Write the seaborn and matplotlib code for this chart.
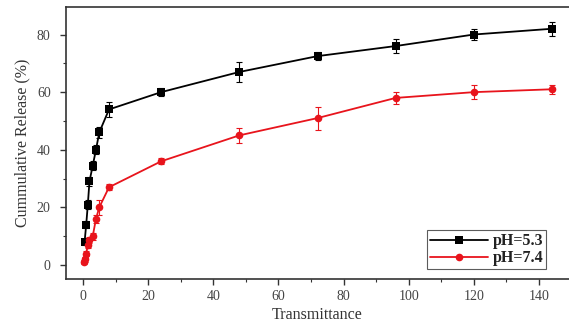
import matplotlib
matplotlib.use("Agg")
import matplotlib.pyplot as plt
from matplotlib.ticker import MultipleLocator
import seaborn as sns
import pandas as pd

# Release profiles at two pH values
time_53 = [0.5, 1, 1.5, 2, 3, 4, 5, 8, 24, 48, 72, 96, 120, 144]
release_53 = [8, 14, 21, 29, 34.5, 40, 46, 54, 60, 67, 72.5, 76, 80, 82]
err_53 = [1.2, 1.2, 1.5, 1.5, 1.5, 1.5, 2, 2.5, 1.5, 3.5, 1.5, 2.5, 2, 2.5]

time_74 = [0.25, 0.5, 1, 1.5, 2, 3, 4, 5, 8, 24, 48, 72, 96, 120, 144]
release_74 = [1, 2, 4, 7, 8.7, 10, 16, 20, 27, 36, 45, 51, 58, 60, 61]
err_74 = [0.8, 0.8, 1, 1, 1, 1.2, 1.5, 2.5, 1, 1, 2.5, 4, 2, 2.5, 1.5]

labels = ["pH=5.3", "pH=7.4"]
colors = ["#000000", "#e8141c"]

df = pd.concat([
    pd.DataFrame({"t": time_53, "r": release_53, "e": err_53, "grp": labels[0]}),
    pd.DataFrame({"t": time_74, "r": release_74, "e": err_74, "grp": labels[1]}),
])

sns.set_theme(style="ticks")
plt.rcParams["font.family"] = ["Liberation Serif", "DejaVu Serif"]

fig = plt.figure(figsize=(5.69, 3.28), dpi=100)
# the frame runs off the right edge of the canvas
ax = fig.add_axes([0.116, 0.148, 0.884, 0.832])

for lab, col in zip(labels, colors):
    sub = df[df["grp"] == lab]
    ax.errorbar(sub["t"], sub["r"], yerr=sub["e"], fmt="none", ecolor=col,
                elinewidth=0.8, capsize=2.5, capthick=0.8, zorder=2)

sns.lineplot(data=df, x="t", y="r", hue="grp", style="grp",
             markers={labels[0]: "s", labels[1]: "o"}, dashes=False,
             palette=dict(zip(labels, colors)), markersize=5.5,
             markeredgewidth=0, linewidth=1.3, ax=ax, zorder=3, sort=True,
             estimator=None)

ax.set_xlim(-5.2, 149.2)
ax.set_ylim(-5.0, 89.7)
ax.xaxis.set_major_locator(MultipleLocator(20))
ax.xaxis.set_minor_locator(MultipleLocator(10))
ax.yaxis.set_major_locator(MultipleLocator(20))
ax.yaxis.set_minor_locator(MultipleLocator(10))
ax.tick_params(which="major", direction="out", length=4, width=1,
               labelsize=10, labelcolor="#444444", color="#333333")
ax.tick_params(axis="y", which="major", pad=7)
ax.tick_params(which="minor", direction="out", length=2.5, width=0.8,
               color="#333333")
for s in ax.spines.values():
    s.set_linewidth(1.2)
    s.set_color("#333333")
ax.spines["right"].set_visible(False)

ax.set_xlabel("Transmittance", fontsize=11.5, color="#333333", labelpad=3)
ax.set_ylabel("Cummulative Release (%)", fontsize=11.5, color="#333333", labelpad=5)

leg = ax.legend(title=None, loc="lower right", bbox_to_anchor=(0.961, 0.025),
                frameon=True, fancybox=False, edgecolor="#333333",
                prop={"weight": "bold", "size": 11.5}, handlelength=3.6,
                borderpad=0.2, labelspacing=0.05, handletextpad=0.3,
                borderaxespad=0.2)
leg.get_frame().set_linewidth(0.8)
for t in leg.get_texts():
    t.set_color("#222222")

fig.savefig("out.png", dpi=100)
